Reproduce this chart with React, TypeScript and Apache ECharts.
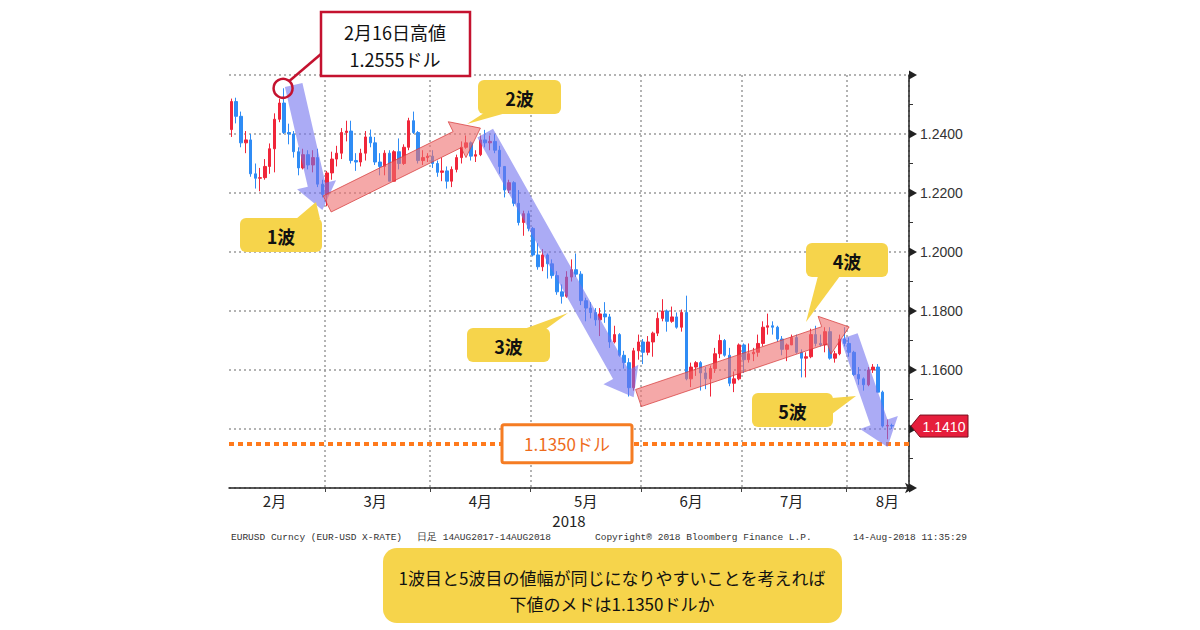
import React, { useEffect, useRef } from "react";
import * as echarts from "echarts";

// [open, close, low, high] per trading day (EUR/USD, 2018)
const feb: number[][] = [
  [1.2415, 1.2510, 1.2390, 1.2520], [1.2510, 1.2460, 1.2436, 1.2523], [1.2460, 1.2370, 1.2355, 1.2476],
  [1.2370, 1.2380, 1.2335, 1.2410], [1.2380, 1.2265, 1.2255, 1.2400], [1.2265, 1.2250, 1.2215, 1.2300],
  [1.2250, 1.2252, 1.2206, 1.2285], [1.2252, 1.2290, 1.2245, 1.2315], [1.2290, 1.2350, 1.2265, 1.2368],
  [1.2350, 1.2450, 1.2270, 1.2470], [1.2450, 1.2505, 1.2440, 1.2520], [1.2505, 1.2405, 1.2400, 1.2555],
  [1.2405, 1.2400, 1.2365, 1.2435], [1.2400, 1.2340, 1.2320, 1.2410], [1.2340, 1.2285, 1.2260, 1.2355],
  [1.2285, 1.2330, 1.2280, 1.2350], [1.2330, 1.2295, 1.2280, 1.2345], [1.2295, 1.2320, 1.2270, 1.2345],
  [1.2320, 1.2230, 1.2220, 1.2350], [1.2230, 1.2195, 1.2185, 1.2245],
];
const mar: number[][] = [
  [1.2195, 1.2268, 1.2155, 1.2275], [1.2268, 1.2315, 1.2245, 1.2340], [1.2315, 1.2335, 1.2290, 1.2360],
  [1.2335, 1.2405, 1.2315, 1.2420], [1.2405, 1.2410, 1.2375, 1.2445], [1.2410, 1.2310, 1.2300, 1.2445],
  [1.2310, 1.2305, 1.2275, 1.2335], [1.2305, 1.2335, 1.2290, 1.2350], [1.2335, 1.2390, 1.2310, 1.2410],
  [1.2390, 1.2370, 1.2355, 1.2415], [1.2370, 1.2305, 1.2295, 1.2390], [1.2305, 1.2290, 1.2260, 1.2335],
  [1.2290, 1.2335, 1.2260, 1.2345], [1.2335, 1.2240, 1.2240, 1.2345], [1.2240, 1.2340, 1.2240, 1.2345],
  [1.2340, 1.2300, 1.2280, 1.2385], [1.2300, 1.2355, 1.2295, 1.2365], [1.2355, 1.2445, 1.2345, 1.2455],
  [1.2445, 1.2405, 1.2400, 1.2476], [1.2405, 1.2310, 1.2300, 1.2410], [1.2310, 1.2320, 1.2295, 1.2345],
  [1.2320, 1.2325, 1.2305, 1.2335],
];
const apr: number[][] = [
  [1.2325, 1.2300, 1.2285, 1.2345], [1.2300, 1.2270, 1.2255, 1.2310], [1.2270, 1.2275, 1.2240, 1.2320],
  [1.2275, 1.2240, 1.2215, 1.2290], [1.2240, 1.2280, 1.2220, 1.2290], [1.2280, 1.2320, 1.2270, 1.2330],
  [1.2320, 1.2355, 1.2300, 1.2375], [1.2355, 1.2370, 1.2350, 1.2395], [1.2370, 1.2325, 1.2310, 1.2375],
  [1.2325, 1.2330, 1.2305, 1.2345], [1.2330, 1.2380, 1.2325, 1.2395], [1.2380, 1.2370, 1.2355, 1.2414],
  [1.2370, 1.2375, 1.2345, 1.2395], [1.2375, 1.2345, 1.2335, 1.2400], [1.2345, 1.2290, 1.2265, 1.2360],
  [1.2290, 1.2210, 1.2185, 1.2290], [1.2210, 1.2235, 1.2200, 1.2245], [1.2235, 1.2165, 1.2155, 1.2240],
  [1.2165, 1.2100, 1.2090, 1.2210], [1.2100, 1.2130, 1.2055, 1.2140], [1.2130, 1.2080, 1.2070, 1.2140],
];
const may: number[][] = [
  [1.2080, 1.1990, 1.1985, 1.2085], [1.1990, 1.1950, 1.1940, 1.2030], [1.1950, 1.1990, 1.1935, 1.2010],
  [1.1990, 1.1960, 1.1910, 1.1995], [1.1960, 1.1920, 1.1910, 1.1975], [1.1920, 1.1865, 1.1855, 1.1935],
  [1.1865, 1.1850, 1.1825, 1.1890], [1.1850, 1.1915, 1.1845, 1.1935], [1.1915, 1.1940, 1.1900, 1.1975],
  [1.1940, 1.1925, 1.1915, 1.1995], [1.1925, 1.1835, 1.1820, 1.1935], [1.1835, 1.1810, 1.1765, 1.1845],
  [1.1810, 1.1795, 1.1775, 1.1830], [1.1795, 1.1770, 1.1750, 1.1810], [1.1770, 1.1790, 1.1715, 1.1810],
  [1.1790, 1.1780, 1.1760, 1.1830], [1.1780, 1.1695, 1.1675, 1.1790], [1.1695, 1.1720, 1.1690, 1.1750],
  [1.1720, 1.1650, 1.1645, 1.1725], [1.1650, 1.1625, 1.1605, 1.1665], [1.1625, 1.1540, 1.1510, 1.1640],
  [1.1540, 1.1665, 1.1530, 1.1675], [1.1665, 1.1695, 1.1635, 1.1720],
];
const jun: number[][] = [
  [1.1695, 1.1660, 1.1620, 1.1705], [1.1660, 1.1695, 1.1650, 1.1715], [1.1695, 1.1725, 1.1645, 1.1730],
  [1.1725, 1.1775, 1.1715, 1.1795], [1.1775, 1.1800, 1.1765, 1.1840], [1.1800, 1.1765, 1.1730, 1.1805],
  [1.1765, 1.1780, 1.1760, 1.1815], [1.1780, 1.1745, 1.1740, 1.1795], [1.1745, 1.1795, 1.1730, 1.1805],
  [1.1795, 1.1570, 1.1565, 1.1852], [1.1570, 1.1610, 1.1542, 1.1625], [1.1610, 1.1625, 1.1580, 1.1630],
  [1.1625, 1.1590, 1.1530, 1.1630], [1.1590, 1.1570, 1.1535, 1.1610], [1.1570, 1.1605, 1.1510, 1.1615],
  [1.1605, 1.1655, 1.1590, 1.1675], [1.1655, 1.1700, 1.1640, 1.1720], [1.1700, 1.1650, 1.1645, 1.1705],
  [1.1650, 1.1555, 1.1545, 1.1675], [1.1555, 1.1570, 1.1525, 1.1595], [1.1570, 1.1685, 1.1565, 1.1690],
];
const jul: number[][] = [
  [1.1685, 1.1635, 1.1590, 1.1690], [1.1635, 1.1655, 1.1625, 1.1690], [1.1655, 1.1660, 1.1630, 1.1675],
  [1.1660, 1.1690, 1.1645, 1.1720], [1.1690, 1.1745, 1.1680, 1.1765], [1.1745, 1.1750, 1.1720, 1.1791],
  [1.1750, 1.1745, 1.1720, 1.1765], [1.1745, 1.1705, 1.1695, 1.1750], [1.1705, 1.1670, 1.1650, 1.1715],
  [1.1670, 1.1685, 1.1630, 1.1690], [1.1685, 1.1710, 1.1685, 1.1720], [1.1710, 1.1660, 1.1655, 1.1720],
  [1.1660, 1.1640, 1.1575, 1.1670], [1.1640, 1.1645, 1.1575, 1.1660], [1.1645, 1.1720, 1.1640, 1.1740],
  [1.1720, 1.1690, 1.1680, 1.1750], [1.1690, 1.1685, 1.1680, 1.1720], [1.1685, 1.1730, 1.1660, 1.1745],
  [1.1730, 1.1640, 1.1635, 1.1745], [1.1640, 1.1655, 1.1625, 1.1665], [1.1655, 1.1705, 1.1650, 1.1720],
  [1.1705, 1.1690, 1.1680, 1.1745],
];
const aug: number[][] = [
  [1.1690, 1.1660, 1.1645, 1.1710], [1.1660, 1.1585, 1.1580, 1.1665], [1.1585, 1.1570, 1.1550, 1.1610],
  [1.1570, 1.1550, 1.1530, 1.1575], [1.1550, 1.1600, 1.1545, 1.1610], [1.1600, 1.1610, 1.1590, 1.1620],
  [1.1610, 1.1525, 1.1525, 1.1620], [1.1525, 1.1410, 1.1405, 1.1530], [1.1410, 1.1412, 1.1365, 1.1432],
  [1.1412, 1.1410, 1.1400, 1.1418],
];

const monthNames = ["2月", "3月", "4月", "5月", "6月", "7月", "8月"];
const monthLabelIdx = [9, 30, 52, 74, 96, 117, 137];
const yTickVals = [1.12, 1.14, 1.16, 1.18, 1.2, 1.22, 1.24, 1.26];
const hiddenYLabels = [1.12, 1.14, 1.26];
const targetLevel = 1.135;
const lastPrice = 1.141;
const highPoint: [string, number] = ["2018-02-16", 1.2555];
// wave arrows: [start date, start price, end date, end price, kind]
const waveArrows: [string, number, string, number, string][] = [
  ["2018-02-20", 1.2566, "2018-02-28", 1.2142, "down"],
  ["2018-03-01", 1.2163, "2018-04-16", 1.2420, "up"],
  ["2018-04-17", 1.2403, "2018-05-30", 1.1508, "down"],
  ["2018-05-31", 1.1505, "2018-08-01", 1.1746, "up"],
  ["2018-08-01", 1.1715, "2018-08-13", 1.1339, "down"],
];
const padCount = 3;

function weekdays(y: number, m0: number, d0: number, m1: number, d1: number): string[] {
  const out: string[] = [];
  const d = new Date(Date.UTC(y, m0, d0));
  const end = new Date(Date.UTC(y, m1, d1));
  while (d <= end) {
    const wd = d.getUTCDay();
    if (wd !== 0 && wd !== 6) {
      const mm = String(d.getUTCMonth() + 1).padStart(2, "0");
      const dd = String(d.getUTCDate()).padStart(2, "0");
      out.push(`${y}-${mm}-${dd}`);
    }
    d.setUTCDate(d.getUTCDate() + 1);
  }
  return out;
}

function arrowPts(s: number[], t: number[], hw: number, hh: number, hl: number) {
  const dx = t[0] - s[0], dy = t[1] - s[1];
  const L = Math.hypot(dx, dy);
  const ux = dx / L, uy = dy / L;
  const nx = -uy, ny = ux;
  const bx = t[0] - ux * hl, by = t[1] - uy * hl;
  return [
    [s[0] + nx * hw, s[1] + ny * hw],
    [bx + nx * hw, by + ny * hw],
    [bx + nx * hh, by + ny * hh],
    [t[0], t[1]],
    [bx - nx * hh, by - ny * hh],
    [bx - nx * hw, by - ny * hw],
    [s[0] - nx * hw, s[1] - ny * hw],
  ];
}

const JP = "'Noto Sans CJK JP', 'Noto Sans', sans-serif";
const YEL = "#F6D44B";

export default function App() {
  const ref = useRef<HTMLDivElement>(null);
  useEffect(() => {
    document.body.style.margin = "0";
    if (!ref.current) return;
    const chart = echarts.init(ref.current, undefined, { renderer: "svg" });
    const dates = weekdays(2018, 1, 1, 7, 14);
    const ohlc = [...feb, ...mar, ...apr, ...may, ...jun, ...jul, ...aug].slice(0, dates.length);
    const cats = [...dates];
    for (let i = 0; i < padCount; i++) cats.push(`pad${i}`);
    const monthStart = new Set<number>();
    for (let i = 1; i < dates.length; i++) {
      if (dates[i].slice(5, 7) !== dates[i - 1].slice(5, 7)) monthStart.add(i);
    }
    const dotted = { color: "#9a9a9a", type: [2, 3] as any, width: 1.5 };

    chart.setOption({
      animation: false,
      backgroundColor: "#fff",
      grid: { left: 229, top: 75, width: 680, height: 413 },
      xAxis: {
        type: "category",
        data: cats,
        boundaryGap: true,
        axisLine: { lineStyle: { color: "#222", width: 1.5 }, symbol: ["none", "arrow"], symbolSize: [8, 9], symbolOffset: [0, 5] },
        axisTick: { show: true, interval: (i: number) => monthStart.has(i), length: 4, lineStyle: { color: "#444", width: 1 } },
        axisLabel: {
          interval: (i: number) => monthLabelIdx.includes(i),
          formatter: (_v: string, i: number) => {
            const k = monthLabelIdx.indexOf(i);
            return k >= 0 ? monthNames[k] : "";
          },
          color: "#222",
          fontSize: 15,
          fontFamily: JP,
          margin: 5,
        },
        splitLine: { show: true, interval: (i: number) => monthStart.has(i), lineStyle: dotted },
        name: "2018",
        nameLocation: "middle",
        nameGap: 24,
        nameTextStyle: { fontSize: 15, color: "#222", fontFamily: JP },
      },
      yAxis: {
        type: "value",
        position: "right",
        min: 1.12,
        max: 1.26,
        interval: 0.02,
        axisLine: { show: true, lineStyle: { color: "#222", width: 1.5 } },
        axisTick: { show: false },
        minorTick: { show: true, splitNumber: 2, length: 4, lineStyle: { color: "#333", width: 1 } },
        axisLabel: {
          margin: 11,
          color: "#333",
          fontSize: 14,
          fontFamily: "'Liberation Sans', Arial, sans-serif",
          formatter: (v: number) => (hiddenYLabels.some((h) => Math.abs(h - v) < 1e-6) ? "" : v.toFixed(4)),
        },
        splitLine: { show: true, lineStyle: dotted },
      },
      series: [
        {
          type: "candlestick",
          data: ohlc,
          barWidth: 3,
          itemStyle: { color: "#F0263A", color0: "#2F8CF5", borderColor: "#F0263A", borderColor0: "#2F8CF5", borderWidth: 1 },
        },
        {
          type: "line",
          data: [],
          silent: true,
          markLine: {
            silent: true,
            precision: 4,
            symbol: ["none", "none"],
            label: { show: false },
            lineStyle: { color: "#FF7A1C", width: 4, type: [5, 4] },
            data: [{ yAxis: targetLevel }],
          },
        },
      ],
    });

    const px = (d: string, v: number) => chart.convertToPixel({ xAxisIndex: 0, yAxisIndex: 0 }, [d, v]) as number[];
    const g: any[] = [];
    // major tick arrows on y axis
    const axisX = 229 + 680;
    yTickVals.forEach((v) => {
      const y = (chart.convertToPixel({ yAxisIndex: 0 }, v) as unknown) as number;
      g.push({ type: "polygon", z: 50, shape: { points: [[axisX, y - 4.5], [axisX + 8, y], [axisX, y + 4.5]] }, style: { fill: "#222" } });
    });
    // wave arrows
    waveArrows.forEach(([d0, v0, d1, v1, kind]) => {
      const s = px(d0, v0), t = px(d1, v1);
      const up = kind === "up";
      g.push({
        type: "polygon",
        z: 60,
        shape: { points: arrowPts(s, t, 9, 20, 26) },
        style: up
          ? { fill: "rgba(238,110,110,0.6)", stroke: "rgba(215,60,60,0.75)", lineWidth: 1 }
          : { fill: "rgba(115,115,238,0.6)" },
      });
    });
    // high marker
    const hp = px(highPoint[0], highPoint[1]);
    g.push({ type: "line", z: 70, shape: { x1: hp[0] + 5, y1: hp[1] - 7, x2: 321, y2: 54 }, style: { stroke: "#C4122F", lineWidth: 2.5 } });
    g.push({ type: "circle", z: 70, shape: { cx: hp[0] - 1, cy: hp[1], r: 9.5 }, style: { fill: "none", stroke: "#C4122F", lineWidth: 2.5 } });
    g.push({ type: "rect", z: 70, shape: { x: 321, y: 12, width: 149, height: 64 }, style: { fill: "#fff", stroke: "#C4122F", lineWidth: 2.5 } });
    g.push({ type: "text", z: 71, x: 395, y: 32, style: { text: "2月16日高値", fill: "#111", font: `18px ${JP}`, align: "center", verticalAlign: "middle" } });
    g.push({ type: "text", z: 71, x: 395, y: 59, style: { text: "1.2555ドル", fill: "#111", font: `18px ${JP}`, align: "center", verticalAlign: "middle" } });

    // wave callouts
    const callouts = [
      { t: "1波", x: 240, y: 218, w: 82, h: 34, p: [[296, 219], [320, 219], [316, 202]] },
      { t: "2波", x: 478, y: 80, w: 83, h: 34, p: [[484, 113], [506, 113], [467, 124]] },
      { t: "3波", x: 467, y: 328, w: 83, h: 34, p: [[524, 329], [546, 329], [568, 313]] },
      { t: "4波", x: 806, y: 243, w: 82, h: 34, p: [[818, 276], [840, 276], [806, 322]] },
      { t: "5波", x: 752, y: 393, w: 81, h: 34, p: [[832, 398], [832, 414], [856, 396]] },
    ];
    callouts.forEach((c) => {
      g.push({ type: "polygon", z: 80, shape: { points: c.p }, style: { fill: YEL } });
      g.push({ type: "rect", z: 80, shape: { x: c.x, y: c.y, width: c.w, height: c.h, r: 6 }, style: { fill: YEL } });
      g.push({ type: "text", z: 81, x: c.x + c.w / 2, y: c.y + c.h / 2 + 1, style: { text: c.t, fill: "#111", font: `bold 18px ${JP}`, align: "center", verticalAlign: "middle" } });
    });

    // target level label
    const ty = (chart.convertToPixel({ yAxisIndex: 0 }, targetLevel) as unknown) as number;
    g.push({ type: "rect", z: 80, shape: { x: 502, y: ty - 19, width: 130, height: 38, r: 2 }, style: { fill: "#fff", stroke: "#F57C23", lineWidth: 3 } });
    g.push({ type: "text", z: 81, x: 567, y: ty, style: { text: "1.1350ドル", fill: "#EE6B1B", font: `17px ${JP}`, align: "center", verticalAlign: "middle" } });

    // last price tag
    const ly = (chart.convertToPixel({ yAxisIndex: 0 }, lastPrice) as unknown) as number;
    g.push({ type: "polygon", z: 80, shape: { points: [[axisX + 2, ly], [axisX + 11, ly - 11], [968, ly - 11], [968, ly + 11], [axisX + 11, ly + 11]] }, style: { fill: "#E61E3C", stroke: "#7a0f1e", lineWidth: 1 } });
    g.push({ type: "text", z: 81, x: 944, y: ly + 1, style: { text: lastPrice.toFixed(4), fill: "#fff", font: "14px 'Liberation Sans', Arial, sans-serif", align: "center", verticalAlign: "middle" } });

    // footer
    const mono = "9.5px 'Liberation Mono', 'DejaVu Sans Mono', monospace";
    g.push({ type: "text", z: 90, x: 231, y: 537, style: { text: "EURUSD Curncy (EUR-USD X-RATE)", fill: "#333", font: mono, verticalAlign: "middle" } });
    g.push({ type: "text", z: 90, x: 417, y: 537, style: { text: "日足 14AUG2017-14AUG2018", fill: "#333", font: mono, verticalAlign: "middle" } });
    g.push({ type: "text", z: 90, x: 595, y: 537, style: { text: "Copyright® 2018 Bloomberg Finance L.P.", fill: "#333", font: mono, verticalAlign: "middle" } });
    g.push({ type: "text", z: 90, x: 967, y: 537, style: { text: "14-Aug-2018 11:35:29", fill: "#333", font: mono, align: "right", verticalAlign: "middle" } });

    // bottom note
    g.push({ type: "rect", z: 90, shape: { x: 383, y: 548, width: 459, height: 75, r: 14 }, style: { fill: YEL } });
    g.push({ type: "text", z: 91, x: 612, y: 577, style: { text: "1波目と5波目の値幅が同じになりやすいことを考えれば", fill: "#111", font: `17px ${JP}`, align: "center", verticalAlign: "middle" } });
    g.push({ type: "text", z: 91, x: 612, y: 603, style: { text: "下値のメドは1.1350ドルか", fill: "#111", font: `17px ${JP}`, align: "center", verticalAlign: "middle" } });

    chart.setOption({ graphic: g });
    return () => chart.dispose();
  }, []);
  return <div ref={ref} style={{ width: 1200, height: 630 }} />;
}
